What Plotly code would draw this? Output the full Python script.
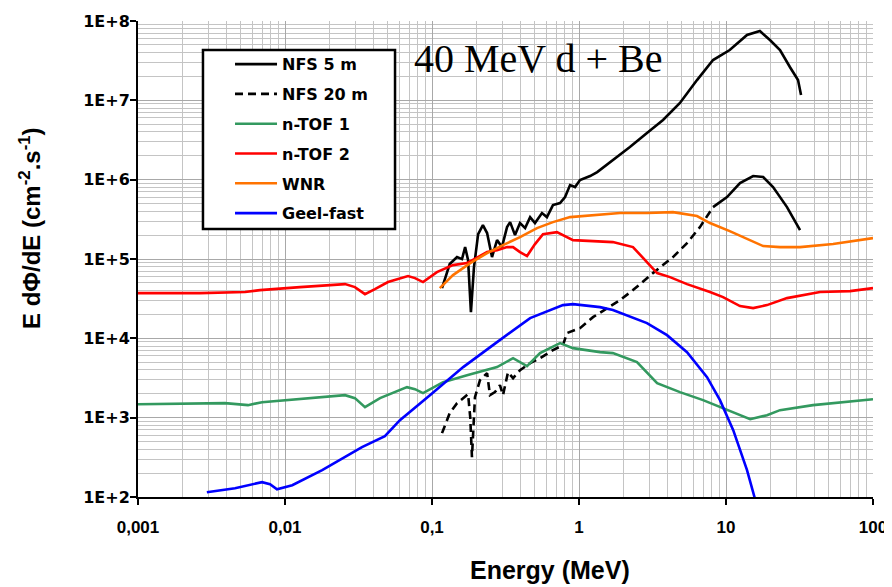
import plotly.graph_objects as go

# ---------------- data ----------------
x_tick_vals = [0.001, 0.01, 0.1, 1, 10, 100]
x_tick_text = ["0,001", "0,01", "0,1", "1", "10", "100"]
y_tick_vals = [1e2, 1e3, 1e4, 1e5, 1e6, 1e7, 1e8]
y_tick_text = ["1E+2", "1E+3", "1E+4", "1E+5", "1E+6", "1E+7", "1E+8"]

nfs5_e = [0.117, 0.132, 0.148, 0.160, 0.168, 0.176, 0.184, 0.193, 0.206, 0.222,
          0.237, 0.256, 0.277, 0.299, 0.324, 0.340, 0.367, 0.397, 0.430, 0.465,
          0.502, 0.560, 0.605, 0.665, 0.743, 0.804, 0.869, 0.940, 1.016, 1.19,
          1.33, 1.70, 2.22, 2.90, 3.73, 4.86, 6.35, 8.16, 10.6, 13.9,
          17.0, 19.9, 23.3, 27.2, 30.9, 32.4]
nfs5_f = [42960, 86300, 105700, 99700, 141300, 96800, 21400, 79000, 206000, 267500,
          212300, 105700, 173100, 141300, 252500, 291700, 200000, 283700, 245400, 337400,
          283700, 379300, 337400, 478600, 507000, 603600, 855000, 807000, 988000, 1110000,
          1247000, 1766000, 2576000, 3870000, 5650000, 9250000, 18000000, 32200000, 43100000, 66600000,
          74800000, 57600000, 43100000, 26300000, 18000000, 11700000]

nfs20_e = [0.117, 0.132, 0.148, 0.163, 0.176, 0.182, 0.187, 0.196, 0.212, 0.237,
           0.248, 0.268, 0.290, 0.304, 0.329, 0.356, 0.397, 0.465, 0.543, 0.665,
           0.778, 0.828, 1.016, 1.245, 1.55, 1.90, 2.33, 3.18, 4.36, 5.43,
           6.65, 8.16, 10.16, 12.45, 15.3, 17.9, 20.9, 26.0, 31.9]
nfs20_f = [638, 1140, 1524, 1762, 1977, 1014, 318, 1815, 2972, 3640,
           1923, 2099, 2570, 1923, 3750, 3148, 3972, 4865, 5623, 7100,
           8204, 11640, 13450, 18500, 24040, 30330, 40560, 66400, 105700, 158500,
           252500, 450800, 603600, 906000, 1110000, 1078000, 807000, 450800, 231200]
nfs20_dash_end = 31   # index where the drawn line becomes continuous

ntof1_e = [0.001, 0.00391, 0.0056, 0.00698, 0.0256, 0.0299, 0.035, 0.0443, 0.0676, 0.0766,
           0.0869, 0.119, 0.173, 0.277, 0.356, 0.443, 0.543, 0.743, 0.91, 1.39,
           1.70, 2.48, 3.40, 4.86, 6.98, 9.55, 14.6, 19.0, 23.3, 39.1,
           53.5, 100]
ntof1_f = [1479, 1524, 1438, 1568, 1923, 1762, 1356, 1762, 2427, 2287,
           2037, 2805, 3436, 4335, 5623, 4457, 6504, 8694, 7518, 6699,
           6504, 5012, 2723, 2099, 1663, 1318, 957, 1076, 1244, 1438,
           1524, 1710]

ntof2_e = [0.001, 0.00264, 0.00535, 0.00676, 0.01265, 0.0256, 0.0299, 0.035, 0.0409, 0.0502,
           0.0687, 0.0766, 0.0869, 0.108, 0.139, 0.173, 0.237, 0.277, 0.324, 0.356,
           0.397, 0.443, 0.502, 0.569, 0.708, 0.91, 1.245, 1.70, 2.33, 2.72,
           3.40, 4.16, 5.43, 7.78, 9.55, 12.45, 15.3, 19.0, 26.0, 43.6,
           69.8, 100]
ntof2_f = [37150, 37150, 38300, 40560, 44260, 48230, 44260, 36060, 41700, 51170,
           60860, 57420, 51170, 68390, 83750, 88760, 122200, 129400, 141300, 141300,
           122200, 108900, 154200, 206000, 218300, 173100, 168200, 163300, 141300, 102600,
           66400, 59100, 48230, 38300, 33100, 25500, 24040, 26230, 32140, 38300,
           39370, 42960]

wnr_e = [0.113, 0.139, 0.182, 0.237, 0.304, 0.397, 0.518, 0.665, 0.869, 1.33,
         1.90, 2.90, 4.36, 6.35, 7.78, 10.6, 17.9, 23.3, 31.9, 53.5, 100]
wnr_f = [42960, 62660, 88760, 118600, 149600, 188800, 245400, 291700, 337400, 357800,
         379300, 379300, 390000, 347500, 283700, 224900, 145500, 141300, 141300, 154200, 183500]

geel_e = [0.00294, 0.00457, 0.00698, 0.00791, 0.00882, 0.0112, 0.0179, 0.0334, 0.0478, 0.0605,
          0.0968, 0.163, 0.277, 0.465, 0.778, 0.91, 1.39, 1.70, 2.90, 3.97,
          5.43, 7.43, 9.10, 11.2, 13.9, 16.0]
geel_f = [115, 129, 154, 145, 125, 141, 218, 425, 585, 929,
          1923, 4335, 8954, 17990, 26230, 26990, 24730, 22700, 15560, 10970,
          6699, 3243, 1663, 695, 218, 85]

# ---------------- figure ----------------
LW = 2.6
fig = go.Figure()
fig.add_trace(go.Scatter(x=nfs5_e, y=nfs5_f, mode="lines", name="NFS 5 m",
                         legendgroup="a", line=dict(color="black", width=LW)))
fig.add_trace(go.Scatter(x=nfs20_e[:nfs20_dash_end + 1], y=nfs20_f[:nfs20_dash_end + 1],
                         mode="lines", name="NFS 20 m", legendgroup="b",
                         line=dict(color="black", width=LW, dash="8px,5px")))
fig.add_trace(go.Scatter(x=nfs20_e[nfs20_dash_end:], y=nfs20_f[nfs20_dash_end:],
                         mode="lines", name="NFS 20 m", legendgroup="b", showlegend=False,
                         line=dict(color="black", width=LW)))
fig.add_trace(go.Scatter(x=ntof1_e, y=ntof1_f, mode="lines", name="n-TOF 1",
                         legendgroup="c", line=dict(color="#33995f", width=LW)))
fig.add_trace(go.Scatter(x=ntof2_e, y=ntof2_f, mode="lines", name="n-TOF 2",
                         legendgroup="d", line=dict(color="#ff0000", width=LW)))
fig.add_trace(go.Scatter(x=wnr_e, y=wnr_f, mode="lines", name="WNR",
                         legendgroup="e", line=dict(color="#ff7300", width=LW)))
fig.add_trace(go.Scatter(x=geel_e, y=geel_f, mode="lines", name="Geel-fast",
                         legendgroup="f", line=dict(color="#0000ff", width=LW)))

SANS = "Liberation Sans, Arial, sans-serif"
WIDE = "DejaVu Sans, Verdana, sans-serif"
axis_common = dict(
    type="log", showline=True, linecolor="black", linewidth=2,
    ticks="outside", ticklen=6, tickwidth=2, tickcolor="black",
    showgrid=True, gridcolor="#a8a8a8", gridwidth=1, zeroline=False,
    tickmode="array", automargin=False,
    minor=dict(showgrid=True, gridcolor="#c4c4c4", gridwidth=1, ticks="", dtick="D1"),
)
fig.update_xaxes(range=[-3, 2], tickvals=x_tick_vals, ticktext=x_tick_text,
                 ticklabelstandoff=8,
                 tickfont=dict(family=SANS, size=17, color="black", weight="bold"),
                 **axis_common)
fig.update_yaxes(range=[2, 8], tickvals=y_tick_vals, ticktext=y_tick_text,
                 ticklabelstandoff=-3,
                 tickfont=dict(family=WIDE, size=16, color="black", weight="bold"),
                 **axis_common)

# the page body adds an 8px margin, so the figure is sized to fit the 892x587 window
fig.update_layout(
    width=884, height=579,
    margin=dict(l=130, r=19, t=13, b=90),
    paper_bgcolor="white", plot_bgcolor="white",
    legend=dict(x=0.1252, y=0.945, xanchor="left", yanchor="top",
                bgcolor="rgba(0,0,0,0)", borderwidth=0,
                traceorder="grouped", tracegroupgap=6, itemwidth=42,
                font=dict(family=WIDE, size=16, color="black", weight="bold")),
    shapes=[
        dict(type="rect", xref="paper", yref="paper", x0=0.0884, x1=0.3497,
             y0=0.563, y1=0.939, layer="above",
             fillcolor="white", line=dict(color="black", width=2.5)),
    ],
    annotations=[
        dict(text="40 MeV d + Be", xref="paper", yref="paper", x=0.3728, y=0.922,
             xanchor="left", yanchor="middle", showarrow=False,
             font=dict(family="Liberation Serif, Times New Roman, serif", size=40, color="black")),
        dict(text="Energy (MeV)", xref="paper", yref="paper", x=0.5605, y=-0.153,
             xanchor="center", yanchor="middle", showarrow=False,
             font=dict(family=SANS, size=25, color="black", weight="bold")),
        dict(text="E d\u03a6/dE (cm<sup>-2</sup>.s<sup>-1</sup>)", xref="paper", yref="paper",
             x=-0.147, y=0.565, xanchor="center", yanchor="middle", textangle=-90,
             showarrow=False,
             font=dict(family=SANS, size=24, color="black", weight="bold")),
    ],
)

fig.write_html("out.html")
